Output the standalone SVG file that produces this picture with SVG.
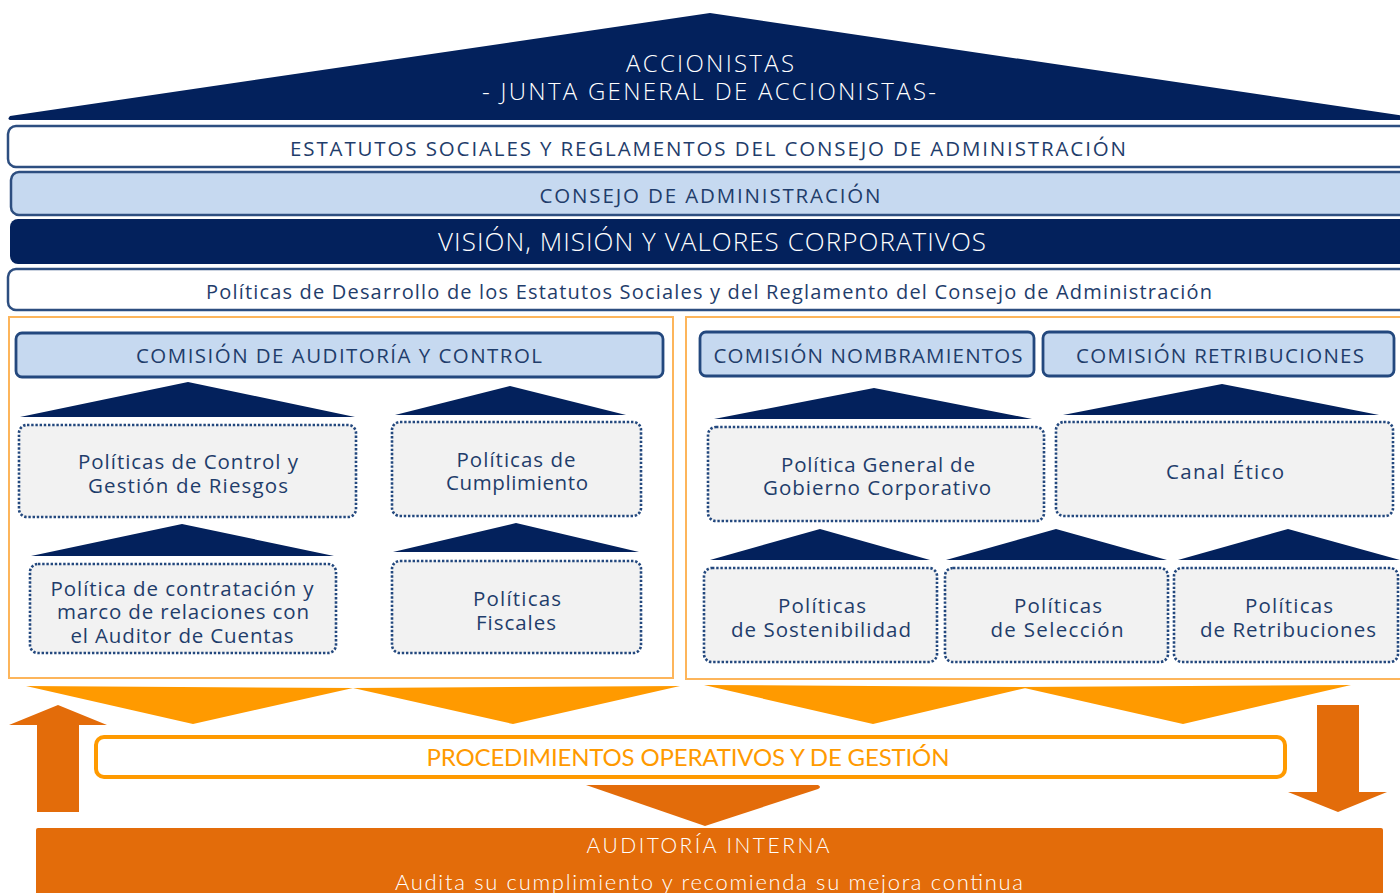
<svg xmlns="http://www.w3.org/2000/svg" width="1400" height="893" viewBox="0 0 1400 893">
  <defs>
    <style>
      .navyfill { fill: #03215C; }
      .band { stroke: #2D4E80; stroke-width: 2.5; }
      .t { font-family: "Open Sans", "Liberation Sans", sans-serif; font-weight: 400; text-anchor: middle; }
      .tn { fill: #1F3D6B; }
      .tw { fill: #FFFFFF; font-weight: 300; }
      .com { fill: #C6D9F0; stroke: #23487E; stroke-width: 2.8; }
      .pol { fill: #F2F2F2; stroke: #23487E; stroke-width: 2.6; stroke-dasharray: 2.4 1.8; }
      .panel { fill: #FFFFFF; stroke: #FDB55B; stroke-width: 2; }
      .chev { fill: #FF9A00; }
      .dark { fill: #E36C0A; }
      .lato { font-family: Lato, "Liberation Sans", sans-serif; text-anchor: middle; }
      .bx { font-size: 20.5px; }
    </style>
  </defs>

  <rect width="1400" height="893" fill="#FFFFFF"/>

  <!-- Roof: shareholders -->
  <g id="accionistas">
    <path class="navyfill" d="M10 116 L710 13 L1412 117 L1412 120 L10 120 Q7 119 10 116 Z"/>
    <text class="t tw" x="710" y="72" font-size="24" textLength="168">ACCIONISTAS</text>
    <text class="t tw" x="709" y="100" font-size="24" textLength="454">- JUNTA GENERAL DE ACCIONISTAS-</text>
  </g>

  <!-- Horizontal bands -->
  <g id="estatutos">
    <rect class="band" x="8" y="126" width="1410" height="41" rx="8" fill="#FFFFFF"/>
    <text class="t tn" x="708" y="156" font-size="20.5" textLength="836">ESTATUTOS SOCIALES Y REGLAMENTOS DEL CONSEJO DE ADMINISTRACIÓN</text>
  </g>
  <g id="consejo">
    <rect class="band" x="11" y="172" width="1410" height="43" rx="8" fill="#C6D9F0"/>
    <text class="t tn" x="710" y="203" font-size="20.5" textLength="341">CONSEJO DE ADMINISTRACIÓN</text>
  </g>
  <g id="vision">
    <rect x="10" y="219" width="1410" height="45" rx="8" fill="#03215C"/>
    <text class="t tw" x="712" y="251" font-size="26" textLength="548">VISIÓN, MISIÓN Y VALORES CORPORATIVOS</text>
  </g>
  <g id="politicas-desarrollo">
    <rect class="band" x="8" y="269" width="1410" height="41" rx="8" fill="#FFFFFF"/>
    <text class="t tn" x="709" y="299" font-size="20" textLength="1006">Políticas de Desarrollo de los Estatutos Sociales y del Reglamento del Consejo de Administración</text>
  </g>

  <!-- Left panel: audit committee -->
  <g id="panel-auditoria">
    <rect class="panel" x="9" y="317" width="664" height="361"/>
  </g>
  <g id="comision-auditoria">
    <rect class="com" x="16" y="333" width="647" height="44" rx="6"/>
    <text class="t tn" x="339" y="363" font-size="20.5" textLength="406">COMISIÓN DE AUDITORÍA Y CONTROL</text>
  </g>

  <!-- Right panel: appointments and remuneration -->
  <g id="panel-nombramientos">
    <rect class="panel" x="686" y="317" width="730" height="362"/>
  </g>
  <g id="comision-nombramientos">
    <rect class="com" x="700" y="332" width="334" height="44" rx="6"/>
    <text class="t tn" x="868" y="363" font-size="20.5" textLength="309">COMISIÓN NOMBRAMIENTOS</text>
  </g>
  <g id="comision-retribuciones">
    <rect class="com" x="1043" y="332" width="351" height="44" rx="6"/>
    <text class="t tn" x="1220" y="363" font-size="20.5" textLength="288">COMISIÓN RETRIBUCIONES</text>
  </g>

  <!-- Connectors: pediment shapes and flow arrows -->
  <g id="connectors">
    <polygon class="navyfill" points="20,417 188,382 355,417"/>
    <polygon class="navyfill" points="395,415 510,386 626,415"/>
    <polygon class="navyfill" points="31,556 182,524 334,556"/>
    <polygon class="navyfill" points="393,552 516,523 639,552"/>
    <polygon class="navyfill" points="714,419 874,388 1032,419"/>
    <polygon class="navyfill" points="1063,415 1222,384 1379,415"/>
    <polygon class="navyfill" points="710,560 820,529 930,560"/>
    <polygon class="navyfill" points="946,560 1056,529 1167,560"/>
    <polygon class="navyfill" points="1178,560 1288,529 1400,560"/>

    <polygon class="chev" points="26,686 353,688 193,724"/>
    <polygon class="chev" points="353,688 680,686 513,724"/>
    <polygon class="chev" points="704,685 1030,687 873,724"/>
    <polygon class="chev" points="1020,687 1351,685 1183,724"/>

    <polygon class="dark" points="37,812 79,812 79,725 107,725 58,705 9,725 37,725"/>
    <polygon class="dark" points="1317,705 1359,705 1359,792 1387,792 1338,812 1288,792 1317,792"/>
    <path class="dark" d="M586 785 L818 785 Q822 787 818 789 L705 826 Z"/>
  </g>

  <!-- Policy boxes, left panel -->
  <g id="control-riesgos">
    <rect class="pol" x="19" y="425" width="337" height="92" rx="8"/>
    <text class="t tn bx" x="188" y="469" textLength="220">Políticas de Control y</text>
    <text class="t tn bx" x="188" y="493" textLength="200">Gestión de Riesgos</text>
  </g>
  <g id="cumplimiento">
    <rect class="pol" x="392" y="422" width="249" height="94" rx="8"/>
    <text class="t tn bx" x="516" y="467" textLength="119">Políticas de</text>
    <text class="t tn bx" x="517" y="490" textLength="142">Cumplimiento</text>
  </g>
  <g id="auditor-cuentas">
    <rect class="pol" x="30" y="564" width="306" height="89" rx="8"/>
    <text class="t tn bx" x="182" y="596" textLength="263">Política de contratación y</text>
    <text class="t tn bx" x="183" y="619" textLength="252">marco de relaciones con</text>
    <text class="t tn bx" x="182" y="643" textLength="223">el Auditor de Cuentas</text>
  </g>
  <g id="fiscales">
    <rect class="pol" x="392" y="561" width="249" height="92" rx="8"/>
    <text class="t tn bx" x="517" y="606" textLength="88">Políticas</text>
    <text class="t tn bx" x="516" y="630" textLength="80">Fiscales</text>
  </g>

  <!-- Policy boxes, right panel -->
  <g id="gobierno-corporativo">
    <rect class="pol" x="708" y="427" width="336" height="94" rx="8"/>
    <text class="t tn bx" x="878" y="472" textLength="194">Política General de</text>
    <text class="t tn bx" x="877" y="495" textLength="228">Gobierno Corporativo</text>
  </g>
  <g id="canal-etico">
    <rect class="pol" x="1056" y="422" width="337" height="94" rx="8"/>
    <text class="t tn bx" x="1225" y="479" textLength="118">Canal Ético</text>
  </g>
  <g id="sostenibilidad">
    <rect class="pol" x="704" y="568" width="233" height="94" rx="8"/>
    <text class="t tn bx" x="822" y="613" textLength="88">Políticas</text>
    <text class="t tn bx" x="821" y="637" textLength="180">de Sostenibilidad</text>
  </g>
  <g id="seleccion">
    <rect class="pol" x="945" y="568" width="223" height="94" rx="8"/>
    <text class="t tn bx" x="1058" y="613" textLength="88">Políticas</text>
    <text class="t tn bx" x="1057" y="637" textLength="133">de Selección</text>
  </g>
  <g id="retribuciones">
    <rect class="pol" x="1174" y="568" width="224" height="94" rx="8"/>
    <text class="t tn bx" x="1289" y="613" textLength="88">Políticas</text>
    <text class="t tn bx" x="1288" y="637" textLength="176">de Retribuciones</text>
  </g>

  <!-- Operating procedures -->
  <g id="procedimientos">
    <rect x="96" y="737" width="1189" height="40" rx="8" fill="#FFFFFF" stroke="#FF9A00" stroke-width="4"/>
    <text class="lato" x="688" y="766" font-size="24" fill="#FF9A00" textLength="523">PROCEDIMIENTOS OPERATIVOS Y DE GESTIÓN</text>
  </g>

  <!-- Internal audit -->
  <g id="auditoria-interna">
    <rect x="36" y="828" width="1347" height="80" rx="2" fill="#E36C0A"/>
    <text class="lato" x="708" y="853" font-size="21" font-weight="300" fill="#FFFFFF" textLength="243">AUDITORÍA INTERNA</text>
    <text class="lato" x="709" y="890" font-size="22" font-weight="300" fill="#FFFFFF" textLength="628">Audita su cumplimiento y recomienda su mejora continua</text>
  </g>
</svg>
